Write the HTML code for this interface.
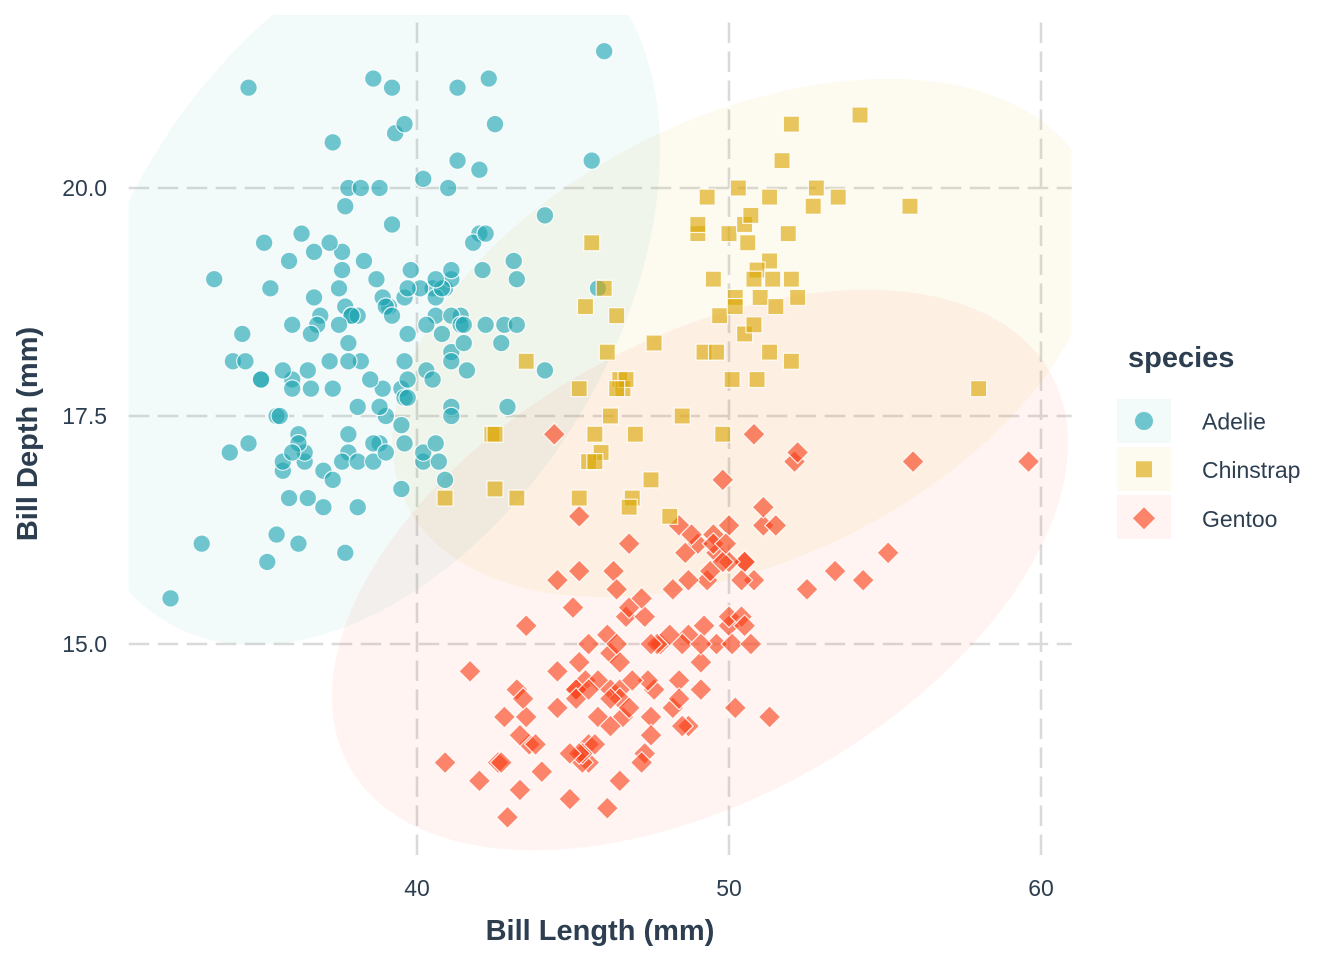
<!DOCTYPE html>
<html>
<head>
<meta charset="utf-8">
<style>
html,body{margin:0;padding:0;background:#fff;}
svg{display:block;}
text{font-family:"Liberation Sans",Arial,sans-serif;fill:#2C3E50;}
.tk{font-size:23px;}
.ttl{font-size:29px;font-weight:bold;}
</style>
</head>
<body>
<svg width="1344" height="960" viewBox="0 0 1344 960" xmlns="http://www.w3.org/2000/svg" xmlns:xlink="http://www.w3.org/1999/xlink">
<defs>
<clipPath id="pc"><rect x="128.7" y="15" width="943" height="840"/></clipPath>
<g id="a" transform="scale(0.0320512821,-0.0109649123)"><circle r="8.7" fill="#1DA4B1" fill-opacity="0.62" stroke="#fff" stroke-width="1.2" stroke-opacity="0.85"/></g>
<g id="c" transform="scale(0.0320512821,-0.0109649123)"><rect x="-8" y="-8" width="16" height="16" fill="#DCA704" fill-opacity="0.62" stroke="#fff" stroke-width="1.2" stroke-opacity="0.85"/></g>
<g id="g" transform="scale(0.0320512821,-0.0109649123)"><path d="M0,-11L11,0L0,11L-11,0Z" fill="#F93F17" fill-opacity="0.62" stroke="#fff" stroke-width="1.2" stroke-opacity="0.85"/></g>
</defs>
<rect width="1344" height="960" fill="#fff"/>

<!-- grid -->
<g stroke="#DADADA" stroke-width="2.6" stroke-dasharray="20.5 8.5" fill="none">
<line x1="128.7" y1="644" x2="1071.7" y2="644"/>
<line x1="128.7" y1="416" x2="1071.7" y2="416"/>
<line x1="128.7" y1="188" x2="1071.7" y2="188"/>
<line x1="417" y1="855" x2="417" y2="15"/>
<line x1="729" y1="855" x2="729" y2="15"/>
<line x1="1041" y1="855" x2="1041" y2="15"/>
</g>

<!-- ellipses -->
<g clip-path="url(#pc)">
<ellipse cx="366.5" cy="286" rx="391" ry="249.3" transform="rotate(-59.05 366.5 286)" fill="#1DA4B1" fill-opacity="0.06"/>
<ellipse cx="746" cy="338" rx="378" ry="222" transform="rotate(-25.9 746 338)" fill="#DCA704" fill-opacity="0.06"/>
<ellipse cx="700" cy="570" rx="402" ry="229" transform="rotate(-29.3 700 570)" fill="#F93F17" fill-opacity="0.06"/>
</g>

<!-- points in data space -->
<g transform="matrix(31.2 0 0 -91.2 -831 2012)">
<!-- Adelie -->
<use xlink:href="#a" x="39.1" y="18.7"/><use xlink:href="#a" x="39.5" y="17.4"/><use xlink:href="#a" x="40.3" y="18"/><use xlink:href="#a" x="36.7" y="19.3"/><use xlink:href="#a" x="39.3" y="20.6"/><use xlink:href="#a" x="38.9" y="17.8"/><use xlink:href="#a" x="39.2" y="19.6"/><use xlink:href="#a" x="34.1" y="18.1"/><use xlink:href="#a" x="42" y="20.2"/><use xlink:href="#a" x="37.8" y="17.1"/>
<use xlink:href="#a" x="37.8" y="17.3"/><use xlink:href="#a" x="41.1" y="17.6"/><use xlink:href="#a" x="38.6" y="21.2"/><use xlink:href="#a" x="34.6" y="21.1"/><use xlink:href="#a" x="36.6" y="17.8"/><use xlink:href="#a" x="38.7" y="19"/><use xlink:href="#a" x="42.5" y="20.7"/><use xlink:href="#a" x="34.4" y="18.4"/><use xlink:href="#a" x="46" y="21.5"/><use xlink:href="#a" x="37.8" y="18.3"/>
<use xlink:href="#a" x="37.7" y="18.7"/><use xlink:href="#a" x="35.9" y="19.2"/><use xlink:href="#a" x="38.2" y="18.1"/><use xlink:href="#a" x="38.8" y="17.2"/><use xlink:href="#a" x="35.3" y="18.9"/><use xlink:href="#a" x="40.6" y="18.6"/><use xlink:href="#a" x="40.5" y="17.9"/><use xlink:href="#a" x="37.9" y="18.6"/><use xlink:href="#a" x="40.5" y="18.9"/><use xlink:href="#a" x="39.5" y="16.7"/>
<use xlink:href="#a" x="37.2" y="18.1"/><use xlink:href="#a" x="39.5" y="17.8"/><use xlink:href="#a" x="40.9" y="18.9"/><use xlink:href="#a" x="36.4" y="17"/><use xlink:href="#a" x="39.2" y="21.1"/><use xlink:href="#a" x="38.8" y="20"/><use xlink:href="#a" x="42.2" y="18.5"/><use xlink:href="#a" x="37.6" y="19.3"/><use xlink:href="#a" x="39.8" y="19.1"/><use xlink:href="#a" x="36.5" y="18"/>
<use xlink:href="#a" x="40.8" y="18.4"/><use xlink:href="#a" x="36" y="18.5"/><use xlink:href="#a" x="44.1" y="19.7"/><use xlink:href="#a" x="37" y="16.9"/><use xlink:href="#a" x="39.6" y="18.8"/><use xlink:href="#a" x="41.1" y="19"/><use xlink:href="#a" x="37.5" y="18.9"/><use xlink:href="#a" x="36" y="17.9"/><use xlink:href="#a" x="42.3" y="21.2"/><use xlink:href="#a" x="39.6" y="17.7"/>
<use xlink:href="#a" x="40.1" y="18.9"/><use xlink:href="#a" x="35" y="17.9"/><use xlink:href="#a" x="42" y="19.5"/><use xlink:href="#a" x="34.5" y="18.1"/><use xlink:href="#a" x="41.4" y="18.6"/><use xlink:href="#a" x="39" y="17.5"/><use xlink:href="#a" x="40.6" y="18.8"/><use xlink:href="#a" x="36.5" y="16.6"/><use xlink:href="#a" x="37.6" y="19.1"/><use xlink:href="#a" x="35.7" y="16.9"/>
<use xlink:href="#a" x="41.3" y="21.1"/><use xlink:href="#a" x="37.6" y="17"/><use xlink:href="#a" x="41.1" y="18.2"/><use xlink:href="#a" x="36.4" y="17.1"/><use xlink:href="#a" x="41.6" y="18"/><use xlink:href="#a" x="35.5" y="16.2"/><use xlink:href="#a" x="41.1" y="19.1"/><use xlink:href="#a" x="35.9" y="16.6"/><use xlink:href="#a" x="41.8" y="19.4"/><use xlink:href="#a" x="33.5" y="19"/>
<use xlink:href="#a" x="39.7" y="18.4"/><use xlink:href="#a" x="39.6" y="17.2"/><use xlink:href="#a" x="45.8" y="18.9"/><use xlink:href="#a" x="35.5" y="17.5"/><use xlink:href="#a" x="42.8" y="18.5"/><use xlink:href="#a" x="40.9" y="16.8"/><use xlink:href="#a" x="37.2" y="19.4"/><use xlink:href="#a" x="36.2" y="16.1"/><use xlink:href="#a" x="42.1" y="19.1"/><use xlink:href="#a" x="34.6" y="17.2"/>
<use xlink:href="#a" x="42.9" y="17.6"/><use xlink:href="#a" x="36.7" y="18.8"/><use xlink:href="#a" x="35.1" y="19.4"/><use xlink:href="#a" x="37.3" y="17.8"/><use xlink:href="#a" x="41.3" y="20.3"/><use xlink:href="#a" x="36.3" y="19.5"/><use xlink:href="#a" x="36.9" y="18.6"/><use xlink:href="#a" x="38.3" y="19.2"/><use xlink:href="#a" x="38.9" y="18.8"/><use xlink:href="#a" x="35.7" y="18"/>
<use xlink:href="#a" x="41.1" y="18.1"/><use xlink:href="#a" x="34" y="17.1"/><use xlink:href="#a" x="39.6" y="18.1"/><use xlink:href="#a" x="36.2" y="17.3"/><use xlink:href="#a" x="40.8" y="18.9"/><use xlink:href="#a" x="38.1" y="18.6"/><use xlink:href="#a" x="40.3" y="18.5"/><use xlink:href="#a" x="33.1" y="16.1"/><use xlink:href="#a" x="43.2" y="18.5"/><use xlink:href="#a" x="35" y="17.9"/>
<use xlink:href="#a" x="41" y="20"/><use xlink:href="#a" x="37.7" y="16"/><use xlink:href="#a" x="37.8" y="20"/><use xlink:href="#a" x="37.9" y="18.6"/><use xlink:href="#a" x="39.7" y="18.9"/><use xlink:href="#a" x="38.6" y="17.2"/><use xlink:href="#a" x="38.2" y="20"/><use xlink:href="#a" x="38.1" y="17"/><use xlink:href="#a" x="43.2" y="19"/><use xlink:href="#a" x="38.1" y="16.5"/>
<use xlink:href="#a" x="45.6" y="20.3"/><use xlink:href="#a" x="39.7" y="17.7"/><use xlink:href="#a" x="42.2" y="19.5"/><use xlink:href="#a" x="39.6" y="20.7"/><use xlink:href="#a" x="42.7" y="18.3"/><use xlink:href="#a" x="38.6" y="17"/><use xlink:href="#a" x="37.3" y="20.5"/><use xlink:href="#a" x="35.7" y="17"/><use xlink:href="#a" x="41.1" y="18.6"/><use xlink:href="#a" x="36.2" y="17.2"/>
<use xlink:href="#a" x="37.7" y="19.8"/><use xlink:href="#a" x="40.2" y="17"/><use xlink:href="#a" x="41.4" y="18.5"/><use xlink:href="#a" x="35.2" y="15.9"/><use xlink:href="#a" x="40.6" y="19"/><use xlink:href="#a" x="38.8" y="17.6"/><use xlink:href="#a" x="41.5" y="18.3"/><use xlink:href="#a" x="39" y="17.1"/><use xlink:href="#a" x="44.1" y="18"/><use xlink:href="#a" x="38.5" y="17.9"/>
<use xlink:href="#a" x="43.1" y="19.2"/><use xlink:href="#a" x="36.8" y="18.5"/><use xlink:href="#a" x="37.5" y="18.5"/><use xlink:href="#a" x="38.1" y="17.6"/><use xlink:href="#a" x="41.1" y="17.5"/><use xlink:href="#a" x="35.6" y="17.5"/><use xlink:href="#a" x="40.2" y="20.1"/><use xlink:href="#a" x="37" y="16.5"/><use xlink:href="#a" x="39.7" y="17.9"/><use xlink:href="#a" x="40.2" y="17.1"/>
<use xlink:href="#a" x="40.6" y="17.2"/><use xlink:href="#a" x="32.1" y="15.5"/><use xlink:href="#a" x="40.7" y="17"/><use xlink:href="#a" x="37.3" y="16.8"/><use xlink:href="#a" x="39" y="18.7"/><use xlink:href="#a" x="39.2" y="18.6"/><use xlink:href="#a" x="36.6" y="18.4"/><use xlink:href="#a" x="36" y="17.8"/><use xlink:href="#a" x="37.8" y="18.1"/><use xlink:href="#a" x="36" y="17.1"/>
<use xlink:href="#a" x="41.5" y="18.5"/>
<!-- Gentoo -->
<use xlink:href="#g" x="46.1" y="13.2"/><use xlink:href="#g" x="50" y="16.3"/><use xlink:href="#g" x="48.7" y="14.1"/><use xlink:href="#g" x="50" y="15.2"/><use xlink:href="#g" x="47.6" y="14.5"/><use xlink:href="#g" x="46.5" y="13.5"/><use xlink:href="#g" x="45.4" y="14.6"/><use xlink:href="#g" x="46.7" y="15.3"/><use xlink:href="#g" x="43.3" y="13.4"/><use xlink:href="#g" x="46.8" y="15.4"/>
<use xlink:href="#g" x="40.9" y="13.7"/><use xlink:href="#g" x="49" y="16.1"/><use xlink:href="#g" x="45.5" y="13.7"/><use xlink:href="#g" x="48.4" y="14.6"/><use xlink:href="#g" x="45.8" y="14.6"/><use xlink:href="#g" x="49.3" y="15.7"/><use xlink:href="#g" x="42" y="13.5"/><use xlink:href="#g" x="49.2" y="15.2"/><use xlink:href="#g" x="46.2" y="14.5"/><use xlink:href="#g" x="48.7" y="15.1"/>
<use xlink:href="#g" x="50.2" y="14.3"/><use xlink:href="#g" x="45.1" y="14.5"/><use xlink:href="#g" x="46.5" y="14.5"/><use xlink:href="#g" x="46.3" y="15.8"/><use xlink:href="#g" x="42.9" y="13.1"/><use xlink:href="#g" x="46.1" y="15.1"/><use xlink:href="#g" x="44.5" y="14.3"/><use xlink:href="#g" x="47.8" y="15"/><use xlink:href="#g" x="48.2" y="14.3"/><use xlink:href="#g" x="50" y="15.3"/>
<use xlink:href="#g" x="47.3" y="15.3"/><use xlink:href="#g" x="42.8" y="14.2"/><use xlink:href="#g" x="45.1" y="14.5"/><use xlink:href="#g" x="59.6" y="17"/><use xlink:href="#g" x="49.1" y="14.8"/><use xlink:href="#g" x="48.4" y="16.3"/><use xlink:href="#g" x="42.6" y="13.7"/><use xlink:href="#g" x="44.4" y="17.3"/><use xlink:href="#g" x="44" y="13.6"/><use xlink:href="#g" x="48.7" y="15.7"/>
<use xlink:href="#g" x="42.7" y="13.7"/><use xlink:href="#g" x="49.6" y="16"/><use xlink:href="#g" x="45.3" y="13.7"/><use xlink:href="#g" x="49.6" y="15"/><use xlink:href="#g" x="50.5" y="15.9"/><use xlink:href="#g" x="43.6" y="13.9"/><use xlink:href="#g" x="45.5" y="13.9"/><use xlink:href="#g" x="50.5" y="15.9"/><use xlink:href="#g" x="44.9" y="13.3"/><use xlink:href="#g" x="45.2" y="15.8"/>
<use xlink:href="#g" x="46.6" y="14.2"/><use xlink:href="#g" x="48.5" y="14.1"/><use xlink:href="#g" x="45.1" y="14.4"/><use xlink:href="#g" x="50.1" y="15"/><use xlink:href="#g" x="46.5" y="14.4"/><use xlink:href="#g" x="45" y="15.4"/><use xlink:href="#g" x="43.8" y="13.9"/><use xlink:href="#g" x="45.5" y="15"/><use xlink:href="#g" x="43.2" y="14.5"/><use xlink:href="#g" x="50.4" y="15.3"/>
<use xlink:href="#g" x="45.3" y="13.8"/><use xlink:href="#g" x="46.2" y="14.9"/><use xlink:href="#g" x="45.7" y="13.9"/><use xlink:href="#g" x="54.3" y="15.7"/><use xlink:href="#g" x="45.8" y="14.2"/><use xlink:href="#g" x="49.8" y="16.8"/><use xlink:href="#g" x="46.2" y="14.4"/><use xlink:href="#g" x="49.5" y="16.2"/><use xlink:href="#g" x="43.5" y="14.2"/><use xlink:href="#g" x="50.7" y="15"/>
<use xlink:href="#g" x="47.7" y="15"/><use xlink:href="#g" x="46.4" y="15.6"/><use xlink:href="#g" x="48.2" y="15.6"/><use xlink:href="#g" x="46.5" y="14.8"/><use xlink:href="#g" x="46.4" y="15"/><use xlink:href="#g" x="48.6" y="16"/><use xlink:href="#g" x="47.5" y="14.2"/><use xlink:href="#g" x="51.1" y="16.3"/><use xlink:href="#g" x="45.2" y="13.8"/><use xlink:href="#g" x="45.2" y="16.4"/>
<use xlink:href="#g" x="49.1" y="14.5"/><use xlink:href="#g" x="52.5" y="15.6"/><use xlink:href="#g" x="47.4" y="14.6"/><use xlink:href="#g" x="50" y="15.9"/><use xlink:href="#g" x="44.9" y="13.8"/><use xlink:href="#g" x="50.8" y="17.3"/><use xlink:href="#g" x="43.4" y="14.4"/><use xlink:href="#g" x="51.3" y="14.2"/><use xlink:href="#g" x="47.5" y="14"/><use xlink:href="#g" x="52.1" y="17"/>
<use xlink:href="#g" x="47.5" y="15"/><use xlink:href="#g" x="52.2" y="17.1"/><use xlink:href="#g" x="45.5" y="14.5"/><use xlink:href="#g" x="49.5" y="16.1"/><use xlink:href="#g" x="44.5" y="14.7"/><use xlink:href="#g" x="50.8" y="15.7"/><use xlink:href="#g" x="49.4" y="15.8"/><use xlink:href="#g" x="46.9" y="14.6"/><use xlink:href="#g" x="48.4" y="14.4"/><use xlink:href="#g" x="51.1" y="16.5"/>
<use xlink:href="#g" x="48.5" y="15"/><use xlink:href="#g" x="55.9" y="17"/><use xlink:href="#g" x="47.2" y="15.5"/><use xlink:href="#g" x="49.1" y="15"/><use xlink:href="#g" x="47.3" y="13.8"/><use xlink:href="#g" x="46.8" y="16.1"/><use xlink:href="#g" x="41.7" y="14.7"/><use xlink:href="#g" x="53.4" y="15.8"/><use xlink:href="#g" x="43.3" y="14"/><use xlink:href="#g" x="48.1" y="15.1"/>
<use xlink:href="#g" x="50.5" y="15.2"/><use xlink:href="#g" x="49.8" y="15.9"/><use xlink:href="#g" x="43.5" y="15.2"/><use xlink:href="#g" x="51.5" y="16.3"/><use xlink:href="#g" x="46.2" y="14.1"/><use xlink:href="#g" x="55.1" y="16"/><use xlink:href="#g" x="44.5" y="15.7"/><use xlink:href="#g" x="48.8" y="16.2"/><use xlink:href="#g" x="47.2" y="13.7"/><use xlink:href="#g" x="46.8" y="14.3"/>
<use xlink:href="#g" x="50.4" y="15.7"/><use xlink:href="#g" x="45.2" y="14.8"/><use xlink:href="#g" x="49.9" y="16.1"/>
<!-- Chinstrap -->
<use xlink:href="#c" x="46.5" y="17.9"/><use xlink:href="#c" x="50" y="19.5"/><use xlink:href="#c" x="51.3" y="19.2"/><use xlink:href="#c" x="45.4" y="18.7"/><use xlink:href="#c" x="52.7" y="19.8"/><use xlink:href="#c" x="45.2" y="17.8"/><use xlink:href="#c" x="46.1" y="18.2"/><use xlink:href="#c" x="51.3" y="18.2"/><use xlink:href="#c" x="46" y="18.9"/><use xlink:href="#c" x="51.3" y="19.9"/>
<use xlink:href="#c" x="46.6" y="17.8"/><use xlink:href="#c" x="51.7" y="20.3"/><use xlink:href="#c" x="47" y="17.3"/><use xlink:href="#c" x="52" y="18.1"/><use xlink:href="#c" x="45.9" y="17.1"/><use xlink:href="#c" x="50.5" y="19.6"/><use xlink:href="#c" x="50.3" y="20"/><use xlink:href="#c" x="58" y="17.8"/><use xlink:href="#c" x="46.4" y="18.6"/><use xlink:href="#c" x="49.2" y="18.2"/>
<use xlink:href="#c" x="42.4" y="17.3"/><use xlink:href="#c" x="48.5" y="17.5"/><use xlink:href="#c" x="43.2" y="16.6"/><use xlink:href="#c" x="50.6" y="19.4"/><use xlink:href="#c" x="46.7" y="17.9"/><use xlink:href="#c" x="52" y="19"/><use xlink:href="#c" x="50.5" y="18.4"/><use xlink:href="#c" x="49.5" y="19"/><use xlink:href="#c" x="46.4" y="17.8"/><use xlink:href="#c" x="52.8" y="20"/>
<use xlink:href="#c" x="40.9" y="16.6"/><use xlink:href="#c" x="54.2" y="20.8"/><use xlink:href="#c" x="42.5" y="16.7"/><use xlink:href="#c" x="51" y="18.8"/><use xlink:href="#c" x="49.7" y="18.6"/><use xlink:href="#c" x="47.5" y="16.8"/><use xlink:href="#c" x="47.6" y="18.3"/><use xlink:href="#c" x="52" y="20.7"/><use xlink:href="#c" x="46.9" y="16.6"/><use xlink:href="#c" x="53.5" y="19.9"/>
<use xlink:href="#c" x="49" y="19.5"/><use xlink:href="#c" x="46.2" y="17.5"/><use xlink:href="#c" x="50.9" y="19.1"/><use xlink:href="#c" x="45.5" y="17"/><use xlink:href="#c" x="50.9" y="17.9"/><use xlink:href="#c" x="50.8" y="18.5"/><use xlink:href="#c" x="50.1" y="17.9"/><use xlink:href="#c" x="49" y="19.6"/><use xlink:href="#c" x="51.5" y="18.7"/><use xlink:href="#c" x="49.8" y="17.3"/>
<use xlink:href="#c" x="48.1" y="16.4"/><use xlink:href="#c" x="51.4" y="19"/><use xlink:href="#c" x="45.7" y="17.3"/><use xlink:href="#c" x="50.7" y="19.7"/><use xlink:href="#c" x="42.5" y="17.3"/><use xlink:href="#c" x="52.2" y="18.8"/><use xlink:href="#c" x="45.2" y="16.6"/><use xlink:href="#c" x="49.3" y="19.9"/><use xlink:href="#c" x="50.2" y="18.8"/><use xlink:href="#c" x="45.6" y="19.4"/>
<use xlink:href="#c" x="51.9" y="19.5"/><use xlink:href="#c" x="46.8" y="16.5"/><use xlink:href="#c" x="45.7" y="17"/><use xlink:href="#c" x="55.8" y="19.8"/><use xlink:href="#c" x="43.5" y="18.1"/><use xlink:href="#c" x="49.6" y="18.2"/><use xlink:href="#c" x="50.8" y="19"/><use xlink:href="#c" x="50.2" y="18.7"/>
</g>

<!-- axis tick labels -->
<g class="tk">
<text x="107" y="652.2" text-anchor="end">15.0</text>
<text x="107" y="424.2" text-anchor="end">17.5</text>
<text x="107" y="196.2" text-anchor="end">20.0</text>
<text x="417" y="896" text-anchor="middle">40</text>
<text x="729" y="896" text-anchor="middle">50</text>
<text x="1041" y="896" text-anchor="middle">60</text>
</g>

<!-- axis titles -->
<text class="ttl" x="600" y="940" text-anchor="middle">Bill Length (mm)</text>
<text class="ttl" x="0" y="0" text-anchor="middle" transform="translate(37 434) rotate(-90)">Bill Depth (mm)</text>

<!-- legend -->
<text class="ttl" x="1128" y="367">species</text>
<rect x="1117" y="399" width="54" height="44" fill="#1DA4B1" fill-opacity="0.06"/>
<rect x="1117" y="447" width="54" height="44" fill="#DCA704" fill-opacity="0.06"/>
<rect x="1117" y="495" width="54" height="44" fill="#F93F17" fill-opacity="0.06"/>
<circle cx="1144" cy="421" r="9" fill="#1DA4B1" fill-opacity="0.62"/>
<rect x="1136" y="461.3" width="16" height="16" fill="#DCA704" fill-opacity="0.62"/>
<path d="M1144,507.3L1155,518.3L1144,529.3L1133,518.3Z" fill="#F93F17" fill-opacity="0.62"/>
<g class="tk">
<text x="1202" y="429.5">Adelie</text>
<text x="1202" y="478">Chinstrap</text>
<text x="1202" y="527">Gentoo</text>
</g>
</svg>
</body>
</html>
